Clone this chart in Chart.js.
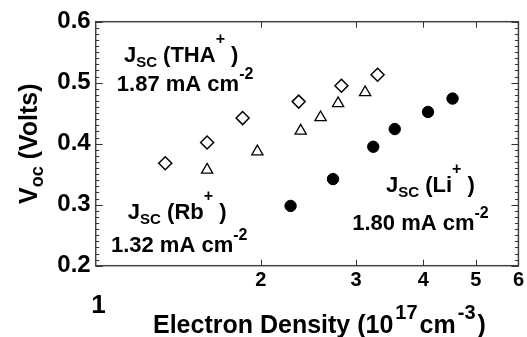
<!DOCTYPE html>
<html>
<head>
<meta charset="utf-8">
<script src="https://cdn.jsdelivr.net/npm/chart.js@4.4.0/dist/chart.umd.min.js"></script>
<style>html,body{margin:0;padding:0;background:#fff}</style>
</head>
<body>
<canvas id="c" width="527" height="337"></canvas>
<script>
// Voc vs electron density, three cations
const thaX = [1.33, 1.59, 1.85, 2.35, 2.82, 3.29];
const thaY = [0.368, 0.402, 0.442, 0.469, 0.495, 0.513];
const rbX  = [1.59, 1.97, 2.37, 2.58, 2.78, 3.12];
const rbY  = [0.357, 0.387, 0.421, 0.443, 0.466, 0.484];
const liX  = [2.27, 2.72, 3.23, 3.54, 4.08, 4.53];
const liY  = [0.298, 0.342, 0.395, 0.424, 0.452, 0.474];
const xTickVals = [2, 3, 4, 5, 6];
const xMin = 0.9886, xMax = 6, yMin = 0.2, yMax = 0.6;

// text notes, anchored in data units: [x, y, runs]
const notes = [
  [1.115, 0.534, [['J'], ['SC','sub'], [' (THA'], ['+','hi'], [' )']]],
  [1.082, 0.486, [['1.87 mA cm'], ['-2','sup']]],
  [1.134, 0.277, [['J'], ['SC','sub'], [' (Rb'], ['+','hi'], [' )']]],
  [1.055, 0.222, [['1.32 mA cm'], ['-2','sup']]],
  [3.41, 0.321, [['J'], ['SC','sub'], [' (Li'], ['+','hi'], [' )']]],
  [2.953, 0.258, [['1.80 mA cm'], ['-2','sup']]]
];

const FONT = '"Liberation Sans", Arial, sans-serif';
function pts(xs, ys){ return xs.map((x,i)=>({x:x, y:ys[i]})); }

// runs of text with sub/superscripts; gap = extra space around small runs
function drawRuns(ctx, runs, x, y, size, small, gap){
  small = small || 0.72; gap = gap || 0;
  ctx.textBaseline = 'alphabetic'; ctx.textAlign = 'left';
  runs.forEach(r=>{
    let s = size, dy = 0;
    if(r[1]==='sub'){ s = Math.round(size*0.7); dy = size*0.24; }
    if(r[1]==='sup'){ s = Math.round(size*small); dy = -size*0.55; }
    if(r[1]==='hi'){ s = Math.round(size*small); dy = -size*0.8; }
    if(r[1]) x += gap;
    ctx.font = 'bold '+s+'px '+FONT;
    ctx.fillText(r[0], x, y+dy);
    x += ctx.measureText(r[0]).width + (r[1] ? gap : 0);
  });
}
function runsWidth(ctx, runs, size){
  let w = 0;
  runs.forEach(r=>{
    const s = r[1] ? Math.round(size*0.7) : size;
    ctx.font = 'bold '+s+'px '+FONT; w += ctx.measureText(r[0]).width;
  });
  return w;
}

const frame = {
  id: 'frame',
  afterDraw(chart){
    const ctx = chart.ctx, a = chart.chartArea;
    const xs = chart.scales.x, ys = chart.scales.y;
    ctx.save();
    // box
    ctx.strokeStyle = '#444'; ctx.lineWidth = 1.5;
    ctx.strokeRect(a.left, a.top, a.right-a.left, a.bottom-a.top);
    // y ticks, inward both sides
    ctx.lineWidth = 1; ctx.strokeStyle = '#333';
    ctx.beginPath();
    for(let i=0;i<=40;i++){
      const v = yMin + i*0.01, py = Math.round(ys.getPixelForValue(v))+0.5;
      const len = (i%10===0) ? 7 : 3.5;
      ctx.moveTo(a.left, py); ctx.lineTo(a.left+len, py);
      ctx.moveTo(a.right, py); ctx.lineTo(a.right-len, py);
    }
    // x ticks, inward bottom and top
    xTickVals.forEach(v=>{
      const px = Math.round(xs.getPixelForValue(v))+0.5;
      ctx.moveTo(px, a.bottom); ctx.lineTo(px, a.bottom-6);
      ctx.moveTo(px, a.top); ctx.lineTo(px, a.top+6);
    });
    ctx.stroke();

    ctx.fillStyle = '#000';
    // notes
    notes.forEach(n=>{
      drawRuns(ctx, n[2], xs.getPixelForValue(n[0]), ys.getPixelForValue(n[1]), 22);
    });
    // the lone "1" label under the axis
    ctx.font = 'bold 26px '+FONT; ctx.textAlign = 'center'; ctx.textBaseline = 'alphabetic';
    ctx.fillText('1', xs.getPixelForValue(1), 313);
    // x title
    drawRuns(ctx, [['Electron Density (10'], ['17','sup'], ['cm'], ['-3','sup'], [')']], 153, 333, 25, 0.8, 2);
    // y title, rotated
    ctx.translate(37, (a.top+a.bottom)/2);
    ctx.rotate(-Math.PI/2);
    const yr = [['V'], ['oc','sub'], [' (Volts)']];
    drawRuns(ctx, yr, -runsWidth(ctx, yr, 25)/2, 0, 25);
    ctx.restore();
  }
};

new Chart(document.getElementById('c'), {
  type: 'scatter',
  data: {
    datasets: [
      {label:'THA', data: pts(thaX, thaY), pointStyle:'rectRot', pointRadius:6.5,
       borderColor:'#000', backgroundColor:'#fff', borderWidth:1.5},
      {label:'Rb', data: pts(rbX, rbY), pointStyle:'triangle', pointRadius:6.5,
       borderColor:'#000', backgroundColor:'#fff', borderWidth:1.3},
      {label:'Li', data: pts(liX, liY), pointStyle:'circle', pointRadius:5.7,
       borderColor:'#000', backgroundColor:'#000', borderWidth:1}
    ]
  },
  options: {
    responsive: false, devicePixelRatio: 1, animation: false,
    layout: {padding: {top: 21.7, right: 5.3, left: 0, bottom: 0}},
    plugins: {legend: {display:false}, tooltip: {enabled:false}},
    scales: {
      x: {
        type: 'logarithmic', min: xMin, max: xMax,
        afterBuildTicks: s => { s.ticks = xTickVals.map(v=>({value:v})); },
        afterFit: s => { s.height = 71.3; },
        grid: {display:false, drawTicks:false}, border: {display:false},
        ticks: {color:'#000', font:{family:FONT, size:20, weight:'bold'}, padding:3, maxRotation:0, autoSkip:false,
                callback: v => String(v)}
      },
      y: {
        min: yMin, max: yMax,
        afterFit: s => { s.width = 95.7; },
        grid: {display:false, drawTicks:false}, border: {display:false},
        ticks: {stepSize:0.1, color:'#000', font:{family:FONT, size:24, weight:'bold'}, padding:5,
                callback: v => v.toFixed(1)}
      }
    }
  },
  plugins: [frame]
});
</script>
</body>
</html>
